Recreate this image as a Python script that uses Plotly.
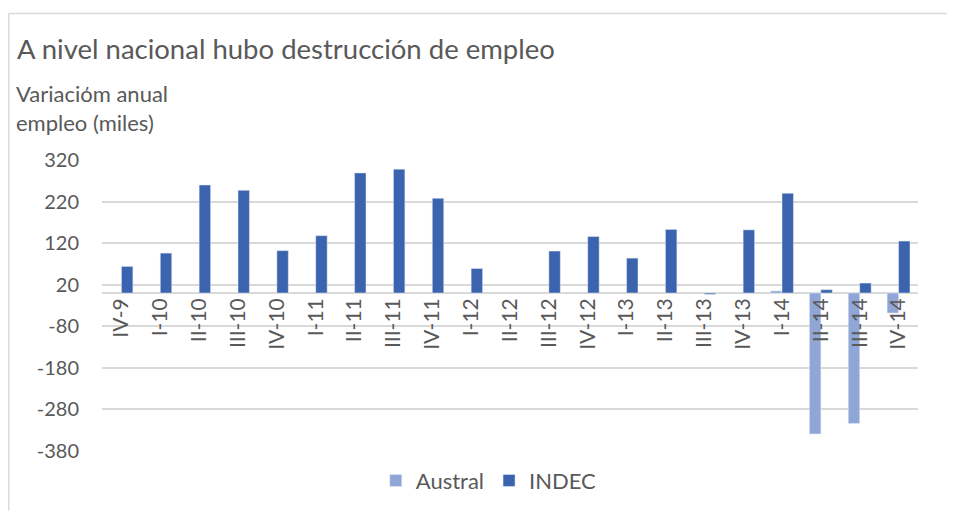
# grafica de variacion anual del empleo

import plotly.graph_objects as go

# Datos de la grafica
trimestres = ['IV-9', 'I-10', 'II-10', 'III-10', 'IV-10', 'I-11', 'II-11', 'III-11', 'IV-11',
              'I-12', 'II-12', 'III-12', 'IV-12', 'I-13', 'II-13', 'III-13', 'IV-13',
              'I-14', 'II-14', 'III-14', 'IV-14']

austral = [None, None, None, None, None, None, None, None, None,
           None, None, None, None, None, None, None, None,
           5, -339, -314, -48]

indec = [64, 96, 260, 247, 102, 138, 289, 298, 228,
         59, None, 101, 136, 84, 153, -3, 152,
         240, 8, 24, 125]

ticks_y = [-380, -280, -180, -80, 20, 120, 220, 320]
ticks_y_texto = ['-380', '-280', '-180', '-80', '20', '120', '220', '320']

fuente = "Lato, sans-serif"
gris_texto = '#595959'

fig = go.Figure()

fig.add_trace(go.Bar(x=trimestres, y=austral, name='Austral', marker_color='#8fa6d7'))
fig.add_trace(go.Bar(x=trimestres, y=indec, name='INDEC', marker_color='#3c64ae'))

# la pagina tiene 8px de margen, por eso la figura es 8px mas chica
fig.update_layout(
    width=947,
    height=506,
    margin=dict(l=93.5, r=36.5, t=152, b=60),
    barmode='group',
    bargap=0.41,
    bargroupgap=0,
    plot_bgcolor='white',
    paper_bgcolor='white',
    font=dict(family=fuente, size=18, color=gris_texto),
    showlegend=True,
    legend=dict(orientation='h', x=0.474, y=-0.102, xanchor='center', yanchor='middle',
                font=dict(size=22, color=gris_texto), itemwidth=30, traceorder='normal'),
)

# Eje y con rejilla gris
fig.update_yaxes(
    range=[-380, 320],
    tickvals=ticks_y,
    ticktext=ticks_y_texto,
    showgrid=True,
    gridcolor='#d9d9d9',
    gridwidth=1.5,
    zeroline=True,
    zerolinecolor='#d9d9d9',
    zerolinewidth=1.5,
    showline=False,
    ticks='',
    ticklabelstandoff=22,
    tickfont=dict(size=20, color=gris_texto),
)

# Eje x colocado sobre el cero
fig.update_xaxes(
    anchor='free',
    position=380 / 700,
    showline=False,
    showgrid=False,
    ticks='',
    tickangle=-90,
    tickfont=dict(size=21, color=gris_texto),
)

# Titulo y etiqueta del eje y
fig.add_annotation(text='A nivel nacional hubo destrucción de empleo',
                   xref='paper', yref='paper', x=(14 - 101.5) / 817, y=(454 - 47) / 294,
                   xanchor='left', yanchor='middle', showarrow=False,
                   font=dict(size=27.5, color=gris_texto))
fig.add_annotation(text='Variaciόm anual<br>empleo (miles)',
                   xref='paper', yref='paper', x=(13 - 101.5) / 817, y=(454 - 107) / 294,
                   xanchor='left', yanchor='middle', showarrow=False, align='left',
                   font=dict(size=22, color=gris_texto))

# Borde del area de la grafica
fig.add_shape(type='line', xref='paper', yref='paper',
              x0=(8 - 101.5) / 817, x1=(955 - 101.5) / 817,
              y0=(454 - 12) / 294, y1=(454 - 12) / 294,
              line=dict(color='#d9d9d9', width=1.5))
fig.add_shape(type='line', xref='paper', yref='paper',
              x0=(8 - 101.5) / 817, x1=(8 - 101.5) / 817,
              y0=(454 - 12) / 294, y1=(454 - 514) / 294,
              line=dict(color='#d9d9d9', width=1.5))

fig.write_html("out.html")
